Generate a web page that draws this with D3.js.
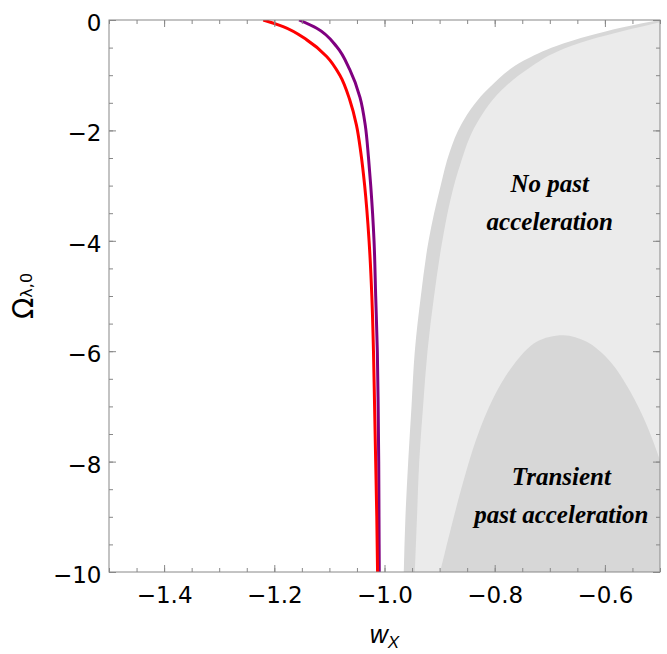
<!DOCTYPE html>
<html>
<head>
<meta charset="utf-8">
<script src="https://cdn.jsdelivr.net/npm/d3@7"></script>
<style>
body { margin: 0; background: #fff; }
svg { display: block; }
.tick text { font-family: "DejaVu Sans", sans-serif; font-size: 23px; fill: #000; }
.region-label { font-family: "Liberation Serif", serif; font-style: italic; font-weight: bold; font-size: 25px; fill: #000; }
</style>
</head>
<body>
<svg width="667" height="654"></svg>
<script>
// red curve (w_X, Omega)
var redOmega = [0, -0.12, -0.36, -0.66, -1.0, -1.45, -1.9, -2.4, -3.0, -4.0, -5.0, -6.0, -7.0, -8.0, -9.0, -10],
	redW = [-1.220, -1.184, -1.141, -1.105, -1.081, -1.063, -1.051, -1.043, -1.036, -1.028, -1.023, -1.020, -1.018, -1.016, -1.014, -1.0126];

// purple curve
var purpleOmega = [0, -0.15, -0.48, -0.9, -1.4, -1.9, -2.5, -3.0, -4.0, -5.0, -6.0, -7.0, -8.0, -9.0, -10],
	purpleW = [-1.155, -1.123, -1.087, -1.063, -1.0445, -1.035, -1.029, -1.025, -1.019, -1.016, -1.013, -1.0115, -1.0105, -1.010, -1.0095];

// outer edge of the dark band
var outerOmega = [0, -0.13, -0.28, -0.47, -0.74, -1.22, -1.88, -2.4, -3.0, -4.0, -5.0, -6.0, -7.0, -8.0, -9.0, -10],
	outerW = [-0.500, -0.567, -0.627, -0.688, -0.748, -0.809, -0.860, -0.882, -0.898, -0.920, -0.934, -0.945, -0.951, -0.957, -0.962, -0.965];

// inner edge of the dark band (start of "no past acceleration")
var innerOmega = [-0.04, -0.2, -0.36, -0.58, -0.86, -1.19, -1.88, -2.6, -3.2, -4.0, -5.0, -6.0, -7.0, -8.0, -9.0, -10],
	innerW = [-0.500, -0.567, -0.627, -0.688, -0.736, -0.779, -0.833, -0.862, -0.879, -0.895, -0.910, -0.922, -0.930, -0.937, -0.941, -0.945];

// transient past acceleration boundary
var transW = [-0.899, -0.881, -0.857, -0.833, -0.8025, -0.766, -0.724, -0.6755, -0.633, -0.590, -0.554, -0.524, -0.500],
	transOmega = [-10, -9.27, -8.36, -7.58, -6.85, -6.25, -5.83, -5.71, -5.83, -6.19, -6.73, -7.34, -7.97];

var xTicks = [-1.4, -1.2, -1.0, -0.8, -0.6],
	yTicks = [0, -2, -4, -6, -8, -10];

var labels = [
	{text: 'No past', w: -0.700, om: -3.11},
	{text: 'acceleration', w: -0.700, om: -3.80},
	{text: 'Transient', w: -0.679, om: -8.42},
	{text: 'past acceleration', w: -0.679, om: -9.11}
];

var svg = d3.select('svg'),
	margin = {top: 20, right: 7, bottom: 82, left: 109},
	width = 667 - margin.left - margin.right,
	height = 654 - margin.top - margin.bottom;

var x = d3.scaleLinear().domain([-1.5, -0.5]).range([0, width]),
	y = d3.scaleLinear().domain([-10, 0]).range([height, 0]);

var g = svg.append('g').attr('transform', 'translate(' + margin.left + ',' + margin.top + ')');

g.append('clipPath').attr('id', 'clip')
	.append('rect').attr('width', width).attr('height', height);

var plot = g.append('g').attr('clip-path', 'url(#clip)');

function zip(ws, oms) {
	return ws.map(function(w, i){ return [w, oms[i]]; });
}

var vline = d3.line()
	.x(function(d){ return x(d[0]); })
	.y(function(d){ return y(d[1]); })
	.curve(d3.curveMonotoneY);

var hline = d3.line()
	.x(function(d){ return x(d[0]); })
	.y(function(d){ return y(d[1]); })
	.curve(d3.curveCatmullRom.alpha(0.5));

// close a boundary against the right / bottom edge
function closeRight(path, startOm) {
	return path + 'L' + x(-0.5) + ',' + y(-10) + 'L' + x(-0.5) + ',' + y(startOm) + 'Z';
}

plot.append('path')
	.attr('d', closeRight(vline(zip(outerW, outerOmega)), outerOmega[0]))
	.attr('fill', '#d7d7d7');

plot.append('path')
	.attr('d', closeRight(vline(zip(innerW, innerOmega)), innerOmega[0]))
	.attr('fill', '#ebebeb');

plot.append('path')
	.attr('d', hline(zip(transW, transOmega)) + 'L' + x(-0.5) + ',' + y(-10) + 'L' + x(transW[0]) + ',' + y(-10) + 'Z')
	.attr('fill', '#d7d7d7');

plot.append('path')
	.attr('d', vline(zip(purpleW, purpleOmega)))
	.attr('fill', 'none')
	.attr('stroke', '#800080')
	.attr('stroke-width', 3);

plot.append('path')
	.attr('d', vline(zip(redW, redOmega)))
	.attr('fill', 'none')
	.attr('stroke', '#ff0000')
	.attr('stroke-width', 3);

// region labels
g.selectAll('.region-label')
	.data(labels)
	.enter().append('text')
	.attr('class', 'region-label')
	.attr('x', function(d){ return x(d.w); })
	.attr('y', function(d){ return y(d.om); })
	.attr('text-anchor', 'middle')
	.text(function(d){ return d.text; });

// frame and ticks, all pointing inward
var xMinor = d3.range(-1.5, -0.499, 0.05),
	yMinor = d3.range(-10, 0.001, 0.5);

function axisGroup(tr) {
	return g.append('g').attr('transform', tr).style('color', '#888');
}

axisGroup('translate(0,' + height + ')').call(d3.axisBottom(x).tickValues(xMinor).tickSize(-4).tickFormat(''));
axisGroup('translate(0,' + height + ')').call(d3.axisBottom(x).tickValues(xTicks).tickSize(-7).tickPadding(14.5).tickFormat(d3.format('.1f')));
axisGroup('translate(0,0)').call(d3.axisTop(x).tickValues(xMinor).tickSize(-4).tickFormat(''));
axisGroup('translate(0,0)').call(d3.axisTop(x).tickValues(xTicks).tickSize(-7).tickFormat(''));

axisGroup('translate(0,0)').call(d3.axisLeft(y).tickValues(yMinor).tickSize(-4).tickFormat(''));
var yAx = axisGroup('translate(0,0)').call(d3.axisLeft(y).tickValues(yTicks).tickSize(-7).tickPadding(7.5).tickFormat(d3.format('d')));
yAx.selectAll('text').attr('dy', '0.46em');
axisGroup('translate(' + width + ',0)').call(d3.axisRight(y).tickValues(yMinor).tickSize(-4).tickFormat(''));
axisGroup('translate(' + width + ',0)').call(d3.axisRight(y).tickValues(yTicks).tickSize(-7).tickFormat(''));

g.selectAll('.domain').remove();
g.selectAll('.tick line').attr('stroke-width', 1);

g.append('rect')
	.attr('width', width)
	.attr('height', height)
	.attr('fill', 'none')
	.attr('stroke', '#888')
	.attr('stroke-width', 1);

// axis titles
var xt = svg.append('text')
	.attr('x', margin.left + width / 2)
	.attr('y', 643)
	.attr('text-anchor', 'middle')
	.style('font-family', '"Liberation Sans", sans-serif')
	.style('font-style', 'italic')
	.style('font-size', '25px');
xt.append('tspan').text('w');
xt.append('tspan').attr('dy', 5).style('font-size', '17px').text('X');

var yt = svg.append('text')
	.attr('transform', 'translate(33,' + (margin.top + height / 2) + ') rotate(-90)')
	.attr('text-anchor', 'middle')
	.style('font-family', '"DejaVu Sans", sans-serif')
	.style('font-size', '28px');
yt.append('tspan').text('Ω');
yt.append('tspan').attr('dy', -1).style('font-size', '16px').text('λ,0');
</script>
</body>
</html>
